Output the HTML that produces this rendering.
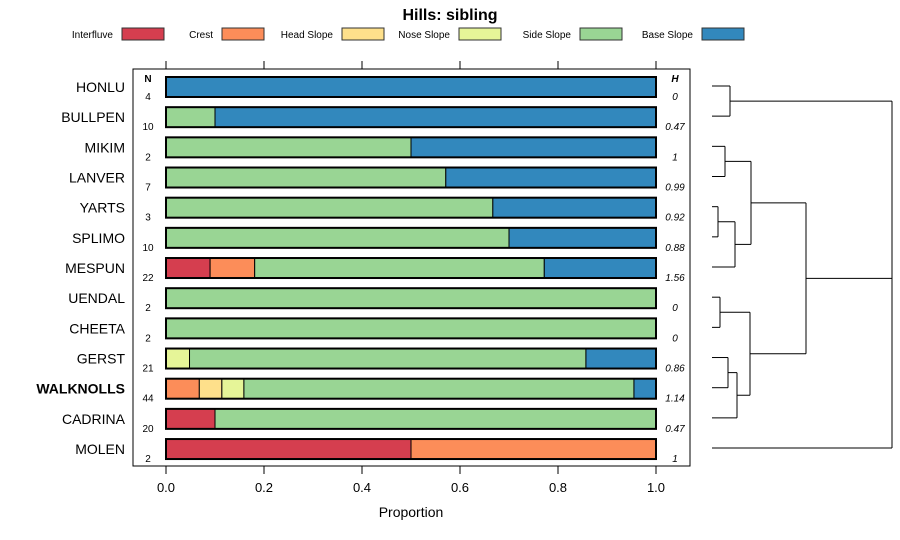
<!DOCTYPE html>
<html><head><meta charset="utf-8"><style>
body{margin:0;background:#fff}
svg{font-family:"Liberation Sans",Arial,sans-serif;display:block}
</style></head><body>
<svg id="c" width="900" height="540" viewBox="0 0 900 540">
<rect width="900" height="540" fill="#fff"/>
<text x="450" y="20" text-anchor="middle" font-size="16" font-weight="bold">Hills: sibling</text>
<g id="legend"></g>
<rect x="133" y="69" width="557" height="397" fill="none" stroke="#000" stroke-width="1"/>
<g id="axes"></g><g id="bars"></g><g id="dendro"></g>
<text x="411" y="517" text-anchor="middle" font-size="14">Proportion</text>
<text x="148" y="82" text-anchor="middle" font-size="10" font-weight="bold">N</text>
<text x="675" y="82" text-anchor="middle" font-size="10" font-weight="bold" font-style="italic">H</text>
</svg>
<script>
const classes=["Interfluve","Crest","Head Slope","Nose Slope","Side Slope","Base Slope"];
const colors=["#d53e4f","#fc8d59","#fee08b","#e6f598","#99d594","#3288bd"];
const names=["HONLU","BULLPEN","MIKIM","LANVER","YARTS","SPLIMO","MESPUN","UENDAL","CHEETA","GERST","WALKNOLLS","CADRINA","MOLEN"];
const nVals=[4,10,2,7,3,10,22,2,2,21,44,20,2];
const hVals=["0","0.47","1","0.99","0.92","0.88","1.56","0","0","0.86","1.14","0.47","1"];
const interfluve=[0,0,0,0,0,0,0.09,0,0,0,0,0.1,0.5];
const crest=[0,0,0,0,0,0,0.091,0,0,0,0.068,0,0.5];
const headSlope=[0,0,0,0,0,0,0,0,0,0,0.046,0,0];
const noseSlope=[0,0,0,0,0,0,0,0,0,0.048,0.045,0,0];
const sideSlope=[0,0.1,0.5,0.571,0.667,0.7,0.591,1,1,0.809,0.796,0.9,0];
const baseSlope=[1,0.9,0.5,0.429,0.333,0.3,0.228,0,0,0.143,0.045,0,0];
const ticks=[0,0.2,0.4,0.6,0.8,1.0];
const series=[interfluve,crest,headSlope,noseSlope,sideSlope,baseSlope];
const NS="http://www.w3.org/2000/svg";
function mk(t,a,p){const e=document.createElementNS(NS,t);for(const k in a)e.setAttribute(k,a[k]);p.appendChild(e);return e;}
const xs=v=>166+v*490;
const ys=i=>87+i*30.17;
// legend
const lg=document.getElementById('legend');
const swX=[122,222,342,459,580,702];
classes.forEach((c,i)=>{
 const t=mk('text',{x:swX[i]-9,y:38,'text-anchor':'end','font-size':10},lg);t.textContent=c;
 
 
 const r=mk('rect',{x:swX[i],y:28,width:42,height:12,fill:colors[i],stroke:'#333'},lg);
 
 
});
// axes
const ax=document.getElementById('axes');
ticks.forEach(t=>{
 const x=xs(t);
 mk('line',{x1:x,x2:x,y1:61,y2:69,stroke:'#000'},ax);
 mk('line',{x1:x,x2:x,y1:466,y2:474,stroke:'#000'},ax);
 const l=mk('text',{x:x,y:492,'text-anchor':'middle','font-size':13},ax);l.textContent=t.toFixed(1);
 
 
});
// bars
const bg=document.getElementById('bars');
names.forEach((n,i)=>{
 const y=ys(i);
 const lab=mk('text',{x:125,y:y+5,'text-anchor':'end','font-size':14,'font-weight':n==="WALKNOLLS"?'bold':'normal'},bg);lab.textContent=n;
 
 
 const nt=mk('text',{x:148,y:y+13,'text-anchor':'middle','font-size':10},bg);nt.textContent=nVals[i];
 
 
 const ht=mk('text',{x:675,y:y+13,'text-anchor':'middle','font-size':10,'font-style':'italic'},bg);ht.textContent=hVals[i];
 
 
 let cum=0;
 series.forEach((s,k)=>{
  if(s[i]>0){
   const r=mk('rect',{x:xs(cum),y:y-10,width:xs(cum+s[i])-xs(cum),height:20,fill:colors[k],stroke:'#000','stroke-width':1},bg);
   
   
   cum+=s[i];
  }
 });
 const o=mk('rect',{x:xs(0),y:y-10,width:490,height:20,fill:'none',stroke:'#000','stroke-width':2},bg);
 
 
});
// dendrogram
const dg=document.getElementById('dendro');
const L=i=>ys(i)-1;
function seg(x1,y1,x2,y2){mk('line',{x1,y1,x2,y2,stroke:'#000','stroke-width':1},dg);}
function join(xa,ya,xb,yb,xm){seg(xa,ya,xm,ya);seg(xb,yb,xm,yb);seg(xm,ya,xm,yb);return (ya+yb)/2;}
const x0=712;
const hb=join(x0,L(0),x0,L(1),730);
const ml=join(x0,L(2),x0,L(3),725);
const ysp=join(x0,L(4),x0,L(5),718);
const ysm=join(718,ysp,x0,L(6),735);
const up=join(725,ml,735,ysm,751);
const uc=join(x0,L(7),x0,L(8),720);
const gw=join(x0,L(9),x0,L(10),728);
const gwc=join(728,gw,x0,L(11),737);
const lo=join(720,uc,737,gwc,750);
const mid=join(751,up,750,lo,806);
seg(730,hb,892,hb);seg(806,mid,892,mid);seg(x0,L(12),892,L(12));seg(892,hb,892,L(12));
</script>
</body></html>
